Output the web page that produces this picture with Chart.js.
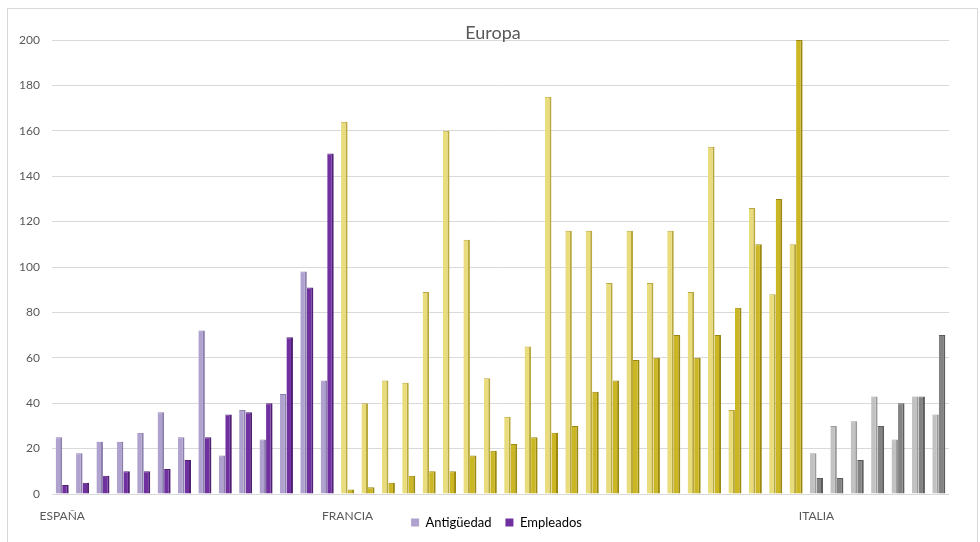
<!DOCTYPE html>
<html>
<head>
<meta charset="utf-8">
<script src="https://cdn.jsdelivr.net/npm/chart.js@4/dist/chart.umd.min.js"></script>
<style>
  html, body { margin: 0; padding: 0; background: #ffffff; }
  #wrap { position: relative; width: 980px; height: 542px; }
</style>
</head>
<body>
<div id="wrap"><canvas id="c" width="980" height="542"></canvas></div>
<script>
const chartTitle = 'Europa';
const seriesNames = ['Antigüedad', 'Empleados'];
const countries = ['ESPAÑA', 'FRANCIA', 'ITALIA'];

const espanaAntiguedad = [25, 18, 23, 23, 27, 36, 25, 72, 17, 37, 24, 44, 98, 50];
const espanaEmpleados  = [4, 5, 8, 10, 10, 11, 15, 25, 35, 36, 40, 69, 91, 150];

const franciaAntiguedad = [164, 40, 50, 49, 89, 160, 112, 51, 34, 65, 175, 116, 116, 93, 116, 93, 116, 89, 153, 37, 126, 88, 110];
const franciaEmpleados  = [2, 3, 5, 8, 10, 10, 17, 19, 22, 25, 27, 30, 45, 50, 59, 60, 70, 60, 70, 82, 110, 130, 200];

const italiaAntiguedad = [18, 30, 32, 43, 24, 43, 35];
const italiaEmpleados  = [7, 7, 15, 30, 40, 43, 70];

const yTicks = [0, 20, 40, 60, 80, 100, 120, 140, 160, 180, 200];

// colours per country (light = Antigüedad, dark = Empleados)
const lightFill   = ['#b0a2cf', '#e8dc7c', '#c2c2c2'];
const lightEdge   = ['#8c7fae', '#b8a83e', '#9a9a9a'];
const darkFill    = ['#7030a0', '#cbb724', '#838383'];
const darkEdge    = ['#4e1f73', '#9a880f', '#5c5c5c'];

const groups = [
  { name: countries[0], a: espanaAntiguedad, e: espanaEmpleados },
  { name: countries[1], a: franciaAntiguedad, e: franciaEmpleados },
  { name: countries[2], a: italiaAntiguedad, e: italiaEmpleados }
];

const labels = [];
const firstOfGroup = [];
const antig = [];
const emple = [];
const countryIdx = [];
groups.forEach((g, gi) => {
  g.a.forEach((v, i) => {
    labels.push(g.name);
    firstOfGroup.push(i === 0);
    antig.push(v);
    emple.push(g.e[i]);
    countryIdx.push(gi);
  });
});

const FONT = 'Lato, "Open Sans", "DejaVu Sans", sans-serif';
const TXT = '#595959';

const framePlugin = {
  id: 'frame',
  beforeDraw(chart) {
    const ctx = chart.ctx;
    ctx.save();
    ctx.fillStyle = '#ffffff';
    ctx.fillRect(0, 0, chart.width, chart.height);
    ctx.strokeStyle = '#d9d9d9';
    ctx.lineWidth = 1;
    ctx.strokeRect(7.5, 8.5, 970, 540);
    ctx.restore();
  }
};

// let the x-axis labels draw below the thin axis box, and centre the legend like the original
const layoutTweak = {
  id: 'layoutTweak',
  afterLayout(chart) {
    const x = chart.scales.x;
    x.bottom += 30;
    x.height += 30;
    if (chart.legend) {
      chart.legend.left += 17;
      chart.legend.right += 17;
    }
  }
};

const titlePlugin = {
  id: 'titleOverlay',
  afterDraw(chart) {
    const ctx = chart.ctx;
    ctx.save();
    ctx.font = '18px ' + FONT;
    ctx.fillStyle = TXT;
    ctx.textAlign = 'center';
    ctx.textBaseline = 'middle';
    ctx.fillText(chartTitle, 493, 33);
    ctx.restore();
  }
};

new Chart(document.getElementById('c'), {
  type: 'bar',
  data: {
    labels: labels,
    datasets: [
      {
        label: seriesNames[0],
        data: antig,
        backgroundColor: countryIdx.map(i => lightFill[i]),
        borderColor: countryIdx.map(i => lightEdge[i]),
        borderWidth: { top: 1, right: 2, bottom: 0, left: 0 },
        categoryPercentage: 0.64,
        barPercentage: 1.0
      },
      {
        label: seriesNames[1],
        data: emple,
        backgroundColor: countryIdx.map(i => darkFill[i]),
        borderColor: countryIdx.map(i => darkEdge[i]),
        borderWidth: { top: 1, right: 2, bottom: 0, left: 0 },
        categoryPercentage: 0.64,
        barPercentage: 1.0
      }
    ]
  },
  options: {
    responsive: false,
    animation: false,
    devicePixelRatio: 1,
    layout: { padding: { left: 10, right: 31, top: 40, bottom: 3 } },
    plugins: {
      title: { display: false },
      tooltip: { enabled: false },
      legend: {
        display: true,
        position: 'bottom',
        labels: {
          boxWidth: 8,
          boxHeight: 8,
          padding: 14,
          color: TXT,
          font: { family: FONT, size: 13 },
          generateLabels: () => [
            { text: seriesNames[0], fillStyle: lightFill[0], strokeStyle: lightFill[0], lineWidth: 0, datasetIndex: 0 },
            { text: seriesNames[1], fillStyle: darkFill[0], strokeStyle: darkFill[0], lineWidth: 0, datasetIndex: 1 }
          ]
        }
      }
    },
    scales: {
      x: {
        grid: { display: false, drawTicks: false },
        border: { display: false },
        ticks: {
          autoSkip: false,
          maxRotation: 0,
          minRotation: 0,
          padding: 15,
          color: TXT,
          font: { family: FONT, size: 12 },
          callback: (val, idx) => firstOfGroup[idx] ? labels[idx] : ''
        },
        afterFit: (axis) => { axis.height = 8; }
      },
      y: {
        min: 0,
        max: 200,
        afterBuildTicks: (axis) => { axis.ticks = yTicks.map(v => ({ value: v })); },
        grid: { color: '#d9d9d9', lineWidth: 1, drawTicks: false },
        border: { display: false },
        ticks: {
          padding: 12,
          color: TXT,
          font: { family: FONT, size: 12 }
        },
        afterFit: (axis) => { axis.width = 42; }
      }
    }
  },
  plugins: [framePlugin, layoutTweak, titlePlugin]
});
</script>
</body>
</html>
